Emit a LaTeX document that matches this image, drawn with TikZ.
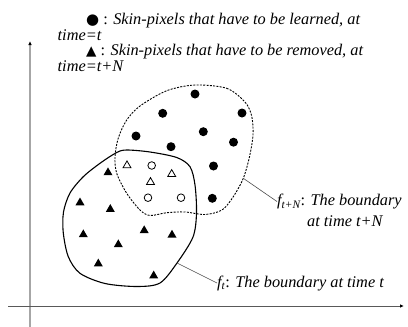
\documentclass[tikz,border=0pt]{standalone}
\usepackage{fontspec}
\setmainfont{Liberation Serif}
\newfontfamily\symf{DejaVu Sans}
\usetikzlibrary{arrows.meta,shapes.geometric}
\tikzset{
  lbl/.style={inner sep=0pt, font=\fontsize{16.3}{18}\selectfont\itshape},
  axisv/.style={draw=black!35, line width=1.3pt, -{Latex[length=4pt,width=3.5pt,black]}},
  axish/.style={draw=black!65, line width=1pt, -{Latex[length=4pt,width=3.5pt,black]}},
  fcirc/.style={circle, fill=black, minimum size=9pt, inner sep=0pt},
  ocirc/.style={circle, draw=black, line width=0.8pt, minimum size=7.6pt, inner sep=0pt},
  ftri/.style={regular polygon, regular polygon sides=3, fill=black, minimum size=10.4pt, inner sep=0pt, yshift=-1.3pt},
  otri/.style={regular polygon, regular polygon sides=3, draw=black, line width=0.8pt, minimum size=9.2pt, inner sep=0pt, yshift=-1.2pt},
  bnd/.style={draw=black, line width=1.1pt},
  bndd/.style={draw=black, line width=0.9pt, dash pattern=on 2pt off 1.3pt},
  leader/.style={draw=black!70, line width=0.6pt}
}
\begin{document}
\begin{tikzpicture}[x=1pt,y=-1pt]
\useasboundingbox (0,0) rectangle (408,327);
% axes
\coordinate (vb) at (30,327);
\coordinate (vt) at (30,41);
\coordinate (hl) at (8,306);
\coordinate (hr) at (404,306);
\draw[axisv] (vb) -- (vt);
\draw[axish] (hl) -- (hr);
% legend
\node[lbl, anchor=base west] (l1) at (86,24) {{\upshape\symf\fontsize{15}{15}\selectfont ●}\upshape{} : \itshape Skin-pixels that have to be learned, at};
\node[lbl, anchor=base west] (l2) at (57.5,40) {time=t};
\node[lbl, anchor=base west] (l3) at (86,55.5) {{\upshape\symf\fontsize{13.5}{13.5}\selectfont ▲}\upshape{} : \itshape Skin-pixels that have to be removed, at};
\node[lbl, anchor=base west] (l4) at (57.5,71.5) {time=t+N};
% boundary at time t+N (dotted)
\draw[bndd] plot[smooth cycle] coordinates {(195,85) (226.7,88.3) (245,102) (251.7,116) (253,135) (249.5,156.7) (243.3,178.3) (233.3,196.7) (222,210) (205,214.5) (185,212) (166.7,212.7) (150,215.5) (140,210) (126.7,193.3) (116.7,173.3) (115,156.7) (118.3,138) (126.7,120) (140,106) (166.7,90.7)};
% boundary at time t (solid)
\draw[bnd] plot[smooth cycle] coordinates {(126.7,150) (150,152) (176.7,157.5) (190,166.7) (195,185) (196.5,213) (193,237) (177,263) (160,283) (137,286.5) (105,283.5) (80,273.3) (68.3,256.7) (63.3,233) (63.5,212) (70,193) (83.3,176.7) (100,163.3) (116.7,152.5)};
\coordinate (ftp) at (177,263);
\coordinate (ftnp) at (243.3,178.3);
% filled circles
\foreach \x/\y [count=\i] in {195/94, 162.7/113.3, 242/113, 203.3/131.7, 136/136, 233.5/142.2, 171/146.7, 213.5/166, 212.3/198.3}
  \node[fcirc] (fc\i) at (\x,\y) {};
% open circles
\foreach \x/\y [count=\i] in {151.7/165.5, 148/197.7, 181/197.7}
  \node[ocirc] (oc\i) at (\x,\y) {};
% open triangles
\foreach \x/\y [count=\i] in {127/164.3, 171.7/173, 150.5/181}
  \node[otri] (ot\i) at (\x,\y) {};
% filled triangles
\foreach \x/\y [count=\i] in {108/171.3, 80/201.4, 110.3/208, 144.2/229.2, 172/233.7, 83.3/233.3, 118.3/243.3, 98.3/262.5, 153.7/274.5}
  \node[ftri] (ftr\i) at (\x,\y) {};
% labels
\node[lbl, anchor=base west] (ft) at (217,287) {f\textsubscript{t}\upshape: \itshape The boundary at time t};
\node[lbl, anchor=base west] (ftn) at (277,205.5) {f\textsubscript{t+N}\upshape: \itshape The boundary};
\node[lbl, anchor=base west] (ftn2) at (307,226) {at time t+N};
\draw[leader] (ftp) -- (ft.west);
\draw[leader] (ftnp) -- (ftn.west);
\end{tikzpicture}
\end{document}
